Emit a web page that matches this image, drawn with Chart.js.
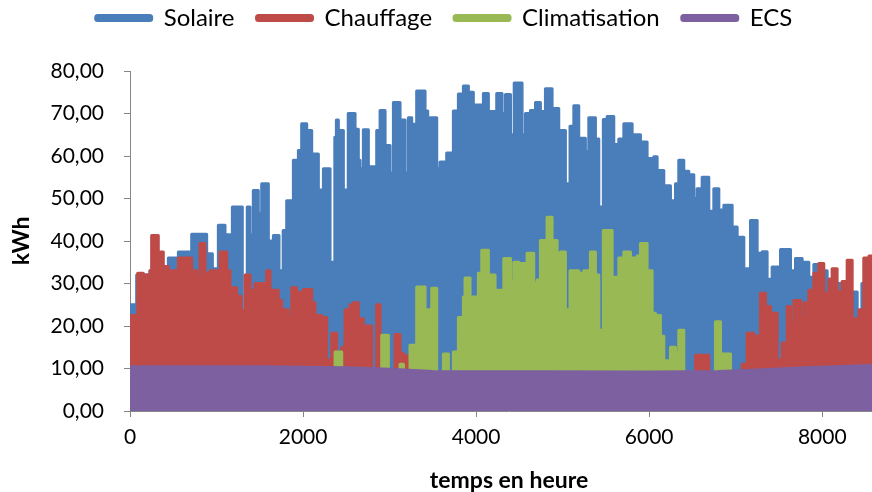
<!DOCTYPE html>
<html lang="fr">
<head>
<meta charset="utf-8">
<title>Solaire, chauffage, climatisation, ECS</title>
<script src="https://cdn.jsdelivr.net/npm/chart.js@4.4.1/dist/chart.umd.min.js"></script>
<style>
    html, body { margin: 0; padding: 0; background: #fff; overflow: hidden; }
    #wrap { position: relative; width: 892px; height: 492px; }
</style>
</head>
<body>
<div id="wrap"><canvas id="chart"></canvas></div>
<script>
'use strict';

// Envelopes: each value holds from its hour until the next hour.
var heuresSolaire = [0, 77, 231, 443, 559, 713, 886, 952, 1021, 1098,
    1156, 1183, 1298, 1355, 1387, 1425, 1483, 1522, 1599, 1657,
    1722, 1770, 1811, 1888, 1946, 1984, 2042, 2100, 2177, 2235,
    2312, 2367, 2385, 2408, 2466, 2522, 2601, 2639, 2658, 2697,
    2755, 2851, 2890, 2948, 3005, 3044, 3121, 3179, 3217, 3256,
    3313, 3410, 3441, 3468, 3545, 3583, 3660, 3737, 3795, 3853,
    3911, 3968, 4084, 4142, 4238, 4300, 4339, 4397, 4440, 4531,
    4570, 4628, 4686, 4743, 4801, 4878, 4955, 5032, 5085, 5129,
    5186, 5263, 5302, 5379, 5418, 5470, 5514, 5591, 5649, 5707,
    5803, 5899, 5976, 6053, 6092, 6169, 6246, 6304, 6342, 6400,
    6458, 6516, 6554, 6612, 6689, 6747, 6805, 6863, 6959, 7017,
    7094, 7171, 7248, 7306, 7363, 7421, 7518, 7633, 7691, 7768,
    7845, 7903, 7980, 8057, 8134, 8288, 8404, 8458, 8600, 8760];
var kwhSolaire = [25, 32, 33, 36, 37.4, 41.6, 37, 33.5, 43.7, 41.5,
    34.7, 48, 23, 48, 41.5, 51.9, 46.5, 53.5, 40, 41.3,
    33, 42.5, 49.5, 59, 61.3, 67.6, 66, 60.5, 52, 57,
    35, 64.4, 68.5, 66, 52, 70, 66.3, 59, 57, 66.2,
    57.5, 66, 70.7, 62.5, 56, 72.6, 68.5, 56, 69, 67.5,
    75.3, 70.6, 64.6, 69, 57, 58.6, 60.7, 70.6, 74.6, 76.5,
    75, 72, 74.7, 70.5, 74.7, 70, 74.5, 65, 77.2, 65,
    70, 70.7, 72.6, 70.5, 75.8, 71.2, 66, 53.5, 67, 71.8,
    64.2, 61, 69, 64, 48, 68.6, 69.3, 62.7, 64, 67.6,
    65, 63.3, 59.4, 59.8, 56.6, 53, 49.5, 53.5, 59, 56.4,
    55.6, 50, 52.3, 55, 47, 52.3, 47.3, 48.4, 43.3, 40.9,
    33.5, 44.8, 37.1, 37.5, 31, 33.9, 38, 33, 35.9, 35,
    31.5, 34.5, 33, 31, 30, 28, 22, 30, 34, 34];

var heuresChauffage = [0, 89, 154, 231, 250, 327, 385, 443, 559, 713,
    771, 809, 867, 925, 1040, 1117, 1156, 1233, 1283, 1330,
    1387, 1445, 1580, 1618, 1714, 1753, 1830, 1869, 1926, 2003,
    2100, 2138, 2215, 2273, 2312, 2331, 2389, 2447, 2485, 2543,
    2581, 2639, 2697, 2793, 2851, 2890, 3063, 3121, 3160, 3210,
    6535, 6689, 7074, 7132, 7210, 7286, 7344, 7402, 7479, 7537,
    7595, 7633, 7672, 7749, 7787, 7845, 7903, 7960, 8018, 8076,
    8114, 8172, 8230, 8288, 8346, 8423, 8480, 8540, 8760];
var kwhChauffage = [22.5, 32.4, 32, 33, 41.3, 37.4, 34, 33, 36, 33,
    31.5, 39.4, 32.4, 33, 37.4, 33, 29, 27, 23.7, 32,
    28.4, 30, 33, 28.4, 26, 23.8, 22, 29, 27.9, 28.6,
    25.5, 22.5, 22, 12, 0, 18.3, 0, 15, 23.8, 25,
    25.5, 21.7, 20, 0, 25, 0, 18, 13.6, 13, 0,
    13.1, 0, 11, 18.3, 17.6, 27.7, 24.6, 23, 12, 16,
    24.6, 20.7, 26, 22, 25.5, 28.4, 32.4, 34.7, 27.7, 31,
    33.5, 28, 30.5, 35.5, 21.7, 23.8, 36, 36.5, 36.5];

var heuresClim = [0, 2370, 2447, 2909, 2986, 3121, 3160, 3236, 3294, 3313,
    3410, 3468, 3487, 3545, 3622, 3680, 3737, 3795, 3853, 3872,
    3930, 4026, 4065, 4142, 4219, 4320, 4397, 4435, 4493, 4589,
    4666, 4705, 4743, 4820, 4878, 4936, 4974, 5032, 5085, 5186,
    5244, 5321, 5379, 5418, 5470, 5572, 5649, 5707, 5784, 5861,
    5899, 5976, 6034, 6072, 6130, 6169, 6246, 6304, 6342, 6400,
    6766, 6824, 6940, 8760];
var kwhClim = [0, 13.9, 0, 17.8, 0, 11, 0, 15.5, 0, 29.2,
    23.8, 20, 28.9, 0, 13.4, 0, 13.9, 22, 26.8, 31.3,
    26.8, 32.4, 37.8, 32, 28.4, 35.9, 30.5, 35, 34.7, 37.1,
    30, 30.8, 40.1, 45.6, 40.1, 37.1, 37.4, 23.8, 33, 32.4,
    33, 37.4, 32, 19, 42.5, 31.5, 36, 37.4, 36, 36.5,
    39.4, 33, 23, 22.5, 17.6, 11.8, 15, 13.4, 19, 0,
    21, 13.4, 0, 0];

var heuresECS = [0, 1500, 2500, 3000, 3500, 6000, 6800, 7200, 7800, 8400, 8760];
var kwhECS = [10.4, 10.4, 10.2, 9.8, 9.3, 9.2, 9.3, 9.6, 10.2, 10.6, 10.8];

var ticksY = [0, 10, 20, 30, 40, 50, 60, 70, 80];
var ticksX = [0, 2000, 4000, 6000, 8000];

function toPoints(heures, valeurs) {
    return heures.map(function (h, i) {
        return { x: h, y: valeurs[i] };
    });
}

function serie(label, heures, valeurs, color, order, stepped) {
    return {
        label: label,
        data: toPoints(heures, valeurs),
        borderColor: color,
        backgroundColor: color,
        borderWidth: 3,
        borderCapStyle: 'round',
        borderJoinStyle: 'round',
        pointRadius: 0,
        stepped: stepped,
        fill: 'origin',
        order: order,
        clip: { left: 0, top: 10, right: 10, bottom: 0 }
    };
}

// Leave more room under the legend, the plot starts lower in the original.
var legendMargin = {
    id: 'legendMargin',
    beforeInit: function (chart) {
        var fit = chart.legend.fit;
        chart.legend.fit = function () {
            fit.bind(chart.legend)();
            this.height += 31;
        };
    }
};

Chart.defaults.font.family = 'Lato';
Chart.defaults.color = '#000';

var axisGrey = '#868686';

new Chart(document.getElementById('chart').getContext('2d'), {
    type: 'line',
    data: {
        datasets: [
            serie('Solaire', heuresSolaire, kwhSolaire, '#4A7EBB', 4, true),
            serie('Chauffage', heuresChauffage, kwhChauffage, '#BE4B48', 3, true),
            serie('Climatisation', heuresClim, kwhClim, '#98B954', 2, true),
            serie('ECS', heuresECS, kwhECS, '#7D60A0', 1, false)
        ]
    },
    plugins: [legendMargin],
    options: {
        responsive: true,
        maintainAspectRatio: false,
        animation: false,
        layout: {
            padding: { top: -16, left: 0, right: 4, bottom: 0 }
        },
        plugins: {
            filler: { drawTime: 'beforeDatasetDraw' },
            tooltip: { enabled: false },
            legend: {
                position: 'top',
                labels: {
                    boxWidth: 56,
                    boxHeight: 5,
                    padding: 22,
                    useBorderRadius: true,
                    borderRadius: 2,
                    font: { size: 24 },
                    sort: function (a, b) {
                        return a.datasetIndex - b.datasetIndex;
                    }
                }
            }
        },
        scales: {
            x: {
                type: 'linear',
                min: 0,
                max: 8760,
                afterFit: function (scale) {
                    scale.height = 81;
                },
                afterBuildTicks: function (scale) {
                    scale.ticks = ticksX.map(function (v) { return { value: v }; });
                },
                ticks: {
                    font: { size: 21 },
                    padding: 8,
                    maxRotation: 0,
                    callback: function (value) { return String(value); }
                },
                grid: {
                    display: true,
                    drawOnChartArea: false,
                    drawTicks: true,
                    tickLength: 6,
                    color: axisGrey
                },
                border: { display: true, color: axisGrey, width: 1 },
                title: {
                    display: true,
                    text: 'temps en heure',
                    font: { size: 23, weight: 'bold', lineHeight: 1 },
                    padding: { top: 0, bottom: 0 }
                }
            },
            y: {
                min: 0,
                max: 80,
                afterFit: function (scale) {
                    scale.width = 130;
                },
                afterBuildTicks: function (scale) {
                    scale.ticks = ticksY.map(function (v) { return { value: v }; });
                },
                ticks: {
                    font: { size: 21 },
                    padding: 20,
                    callback: function (value) {
                        return value.toFixed(2).replace('.', ',');
                    }
                },
                grid: {
                    display: true,
                    drawOnChartArea: false,
                    drawTicks: true,
                    tickLength: 6,
                    color: axisGrey
                },
                border: { display: true, color: axisGrey, width: 1 },
                title: {
                    display: true,
                    text: 'kWh',
                    font: { size: 23, weight: 'bold', lineHeight: 1 },
                    padding: { top: 10, bottom: 0 }
                }
            }
        }
    }
});
</script>
</body>
</html>
